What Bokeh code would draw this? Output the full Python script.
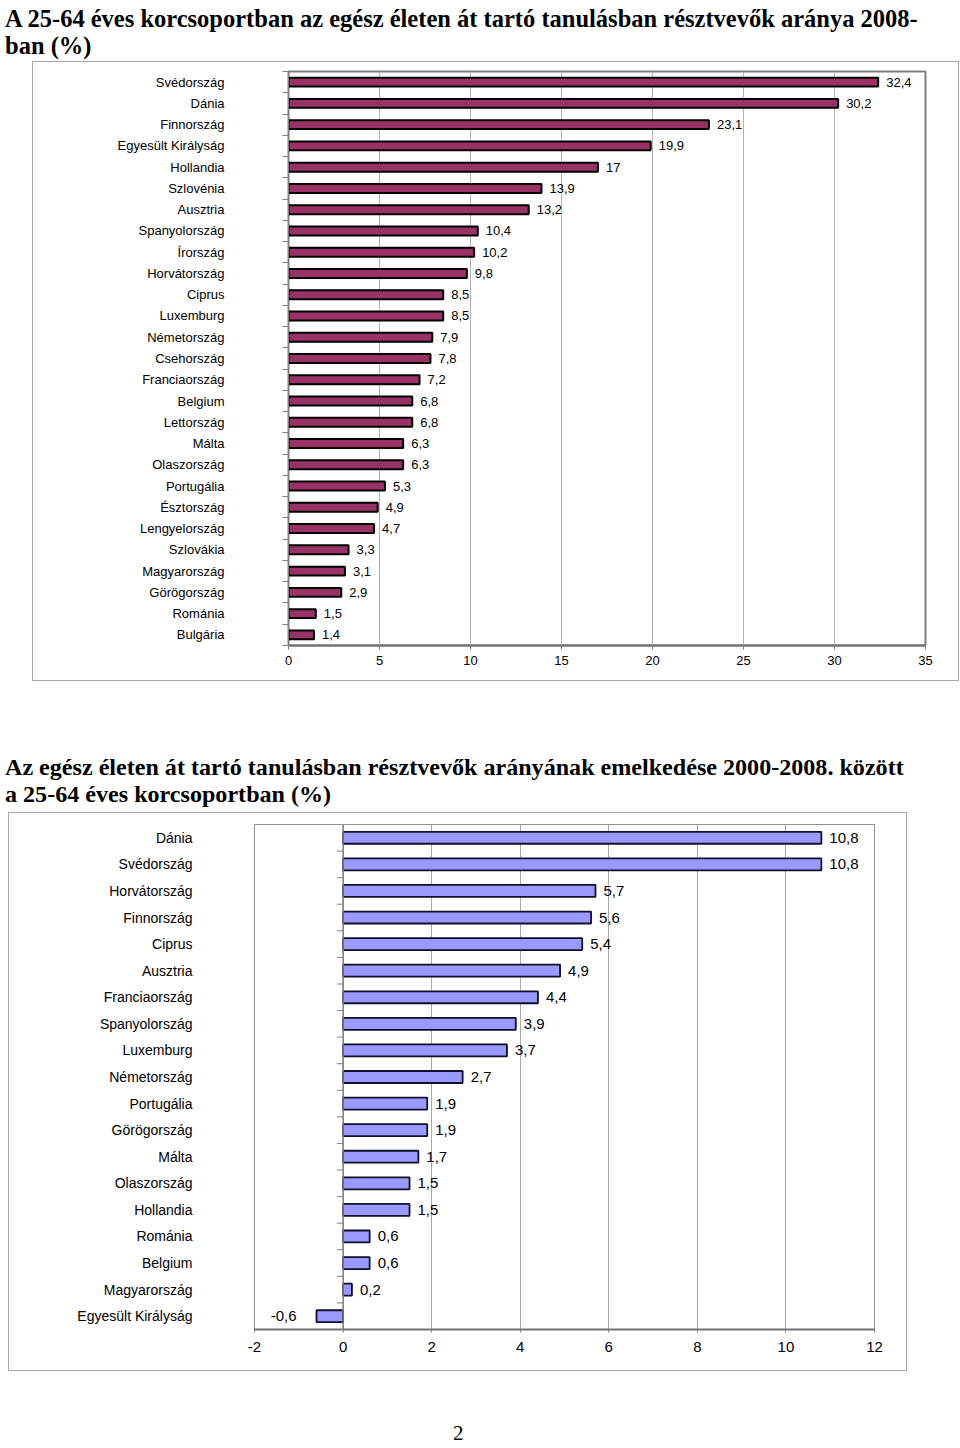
from bokeh.plotting import figure
from bokeh.models import ColumnDataSource, FixedTicker, Range1d, Div, Spacer, Span
from bokeh.layouts import column, row
from bokeh.embed import file_html
from bokeh.resources import INLINE
from bokeh.core.properties import value

# ---------------- data ----------------
title_2008 = "A 25-64 éves korcsoportban az egész életen át tartó tanulásban résztvevők aránya 2008-<br>ban (%)"
countries_2008 = ["Svédország", "Dánia", "Finnország", "Egyesült Királyság", "Hollandia",
                  "Szlovénia", "Ausztria", "Spanyolország", "Írország", "Horvátország",
                  "Ciprus", "Luxemburg", "Németország", "Csehország", "Franciaország",
                  "Belgium", "Lettország", "Málta", "Olaszország", "Portugália",
                  "Észtország", "Lengyelország", "Szlovákia", "Magyarország", "Görögország",
                  "Románia", "Bulgária"]
values_2008 = [32.4, 30.2, 23.1, 19.9, 17.0, 13.9, 13.2, 10.4, 10.2, 9.8,
               8.5, 8.5, 7.9, 7.8, 7.2, 6.8, 6.8, 6.3, 6.3, 5.3,
               4.9, 4.7, 3.3, 3.1, 2.9, 1.5, 1.4]
x_ticks_2008 = [0, 5, 10, 15, 20, 25, 30, 35]

title_change = "Az egész életen át tartó tanulásban résztvevők arányának emelkedése 2000-2008. között<br>a 25-64 éves korcsoportban (%)"
countries_change = ["Dánia", "Svédország", "Horvátország", "Finnország", "Ciprus",
                    "Ausztria", "Franciaország", "Spanyolország", "Luxemburg", "Németország",
                    "Portugália", "Görögország", "Málta", "Olaszország", "Hollandia",
                    "Románia", "Belgium", "Magyarország", "Egyesült Királyság"]
values_change = [10.8, 10.8, 5.7, 5.6, 5.4, 4.9, 4.4, 3.9, 3.7, 2.7,
                 1.9, 1.9, 1.7, 1.5, 1.5, 0.6, 0.6, 0.2, -0.6]
x_ticks_change = [-2, 0, 2, 4, 6, 8, 10, 12]

page_number = "2"

FONT = "Liberation Sans"
SERIF = "Liberation Serif"


def fmt(v):
    s = f"{v:.1f}"
    if s.endswith(".0"):
        s = s[:-2]
    return s.replace(".", ",")


# ---------------- chart 1 ----------------
n1 = len(countries_2008)
idx1 = list(range(n1))
src1 = ColumnDataSource(dict(y=idx1, v=values_2008, lab=[fmt(v) for v in values_2008]))

p1 = figure(width=927, height=620, x_range=Range1d(x_ticks_2008[0], x_ticks_2008[-1]),
            y_range=Range1d(n1 - 0.5, -0.5), output_backend="svg", toolbar_location=None,
            min_border_left=255, min_border_right=35, min_border_top=9, min_border_bottom=37)
p1.styles = {"border": "1px solid #a8a8a8", "box-sizing": "border-box"}
p1.hbar(y="y", left=0, right="v", height=0.42, fill_color="#993366",
        line_color="black", line_width=2, source=src1)
p1.text(x="v", y="y", text="lab", x_offset=8, text_align="left", text_baseline="middle",
        text_font=value(FONT), text_font_size="13px", text_color="black", source=src1)

p1.yaxis.ticker = FixedTicker(ticks=idx1, minor_ticks=[i - 0.5 for i in range(n1 + 1)])
p1.yaxis.major_label_overrides = {i: c for i, c in enumerate(countries_2008)}
p1.yaxis.major_tick_line_color = None
p1.yaxis.major_tick_out = 0
p1.yaxis.major_tick_in = 0
p1.yaxis.minor_tick_out = 6
p1.yaxis.minor_tick_in = 0
p1.yaxis.minor_tick_line_color = "#808080"
p1.yaxis.axis_line_color = "#808080"
p1.yaxis.major_label_standoff = 58
p1.yaxis.major_label_text_font = FONT
p1.yaxis.major_label_text_font_size = "13px"
p1.yaxis.major_label_text_color = "black"

p1.xaxis.ticker = FixedTicker(ticks=x_ticks_2008)
p1.xaxis.major_label_overrides = {t: str(t) for t in x_ticks_2008}
p1.xaxis.minor_tick_line_color = None
p1.xaxis.major_tick_out = 4
p1.xaxis.major_tick_in = 0
p1.xaxis.major_tick_line_color = "#808080"
p1.xaxis.axis_line_color = "#707070"
p1.xaxis.axis_line_width = 2
p1.xaxis.major_label_standoff = 6
p1.xaxis.major_label_text_font = FONT
p1.xaxis.major_label_text_font_size = "13px"
p1.xaxis.major_label_text_color = "black"

p1.xgrid.ticker = FixedTicker(ticks=x_ticks_2008)
p1.xgrid.grid_line_color = "#b4b4b4"
p1.ygrid.grid_line_color = None
p1.outline_line_color = "#808080"
p1.outline_line_width = 2

# ---------------- chart 2 ----------------
n2 = len(countries_change)
idx2 = list(range(n2))
labels2 = [fmt(v) for v in values_change]
src2 = ColumnDataSource(dict(y=idx2, v=values_change, lab=labels2))
pos = [i for i, v in enumerate(values_change) if v >= 0]
neg = [i for i, v in enumerate(values_change) if v < 0]
src2p = ColumnDataSource(dict(y=pos, v=[values_change[i] for i in pos], lab=[labels2[i] for i in pos]))
src2n = ColumnDataSource(dict(y=neg, v=[values_change[i] for i in neg], lab=[labels2[i] for i in neg]))

p2 = figure(width=899, height=559, x_range=Range1d(x_ticks_change[0], x_ticks_change[-1]),
            y_range=Range1d(n2 - 0.5, -0.5), output_backend="svg", toolbar_location=None,
            min_border_left=245, min_border_right=34, min_border_top=11, min_border_bottom=43)
p2.styles = {"border": "1px solid #a8a8a8", "box-sizing": "border-box"}
p2.hbar(y="y", left=0, right="v", height=0.45, fill_color="#9999FF",
        line_color="#10102a", line_width=1.8, source=src2)
p2.text(x="v", y="y", text="lab", x_offset=8, text_align="left", text_baseline="middle",
        text_font=value(FONT), text_font_size="15px", text_color="black", source=src2p)
p2.text(x="v", y="y", text="lab", x_offset=-20, text_align="right", text_baseline="middle",
        text_font=value(FONT), text_font_size="15px", text_color="black", source=src2n)

# category axis crossing at zero, with ticks between categories
p2.add_layout(Span(location=0, dimension="height", line_color="#808080", line_width=1.5))
bounds = [i - 0.5 for i in range(1, n2)]
p2.segment(x0=-0.14, x1=0, y0=bounds, y1=bounds, line_color="#808080", line_width=1)

p2.yaxis.ticker = FixedTicker(ticks=idx2)
p2.yaxis.major_label_overrides = {i: c for i, c in enumerate(countries_change)}
p2.yaxis.major_tick_line_color = None
p2.yaxis.minor_tick_line_color = None
p2.yaxis.major_tick_out = 0
p2.yaxis.major_tick_in = 0
p2.yaxis.axis_line_color = None
p2.yaxis.major_label_standoff = 62
p2.yaxis.major_label_text_font = FONT
p2.yaxis.major_label_text_font_size = "14px"
p2.yaxis.major_label_text_color = "black"

p2.xaxis.ticker = FixedTicker(ticks=x_ticks_change)
p2.xaxis.major_label_overrides = {t: str(t) for t in x_ticks_change}
p2.xaxis.minor_tick_line_color = None
p2.xaxis.major_tick_out = 3
p2.xaxis.major_tick_in = 0
p2.xaxis.major_tick_line_color = "#808080"
p2.xaxis.axis_line_color = "#707070"
p2.xaxis.axis_line_width = 2
p2.xaxis.major_label_standoff = 9
p2.xaxis.major_label_text_font = FONT
p2.xaxis.major_label_text_font_size = "15px"
p2.xaxis.major_label_text_color = "black"

p2.xgrid.ticker = FixedTicker(ticks=x_ticks_change)
p2.xgrid.grid_line_color = "#a8a8a8"
p2.ygrid.grid_line_color = None
p2.outline_line_color = "#909090"
p2.outline_line_width = 1

# ---------------- page ----------------
title_style = {"font-family": SERIF, "line-height": "27px", "color": "black",
               "font-weight": "bold"}
t1 = Div(text=title_2008, width=950, height=51, styles=dict(title_style, **{"font-size": "24.5px"}))
t2 = Div(text=title_change, width=950, height=53, styles=dict(title_style, **{"font-size": "24.1px"}))
pn = Div(text=page_number, width=30, height=24,
         styles={"font-family": SERIF, "font-size": "21px", "color": "black"})

layout = column(
    t1,
    row(Spacer(width=32, height=620), p1),
    Spacer(width=10, height=68),
    t2,
    row(Spacer(width=8, height=559), p2),
    Spacer(width=10, height=42),
    row(Spacer(width=448, height=24), pn),
)

open("out.html", "w").write(file_html(layout, INLINE))
